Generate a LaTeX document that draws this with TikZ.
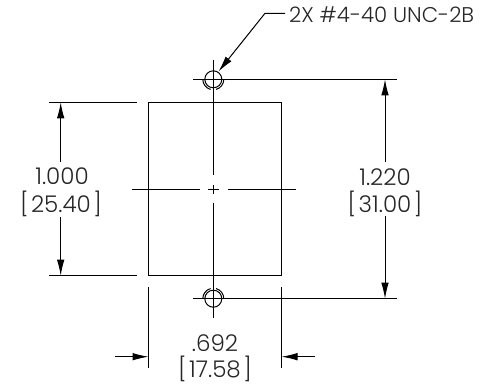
\documentclass[tikz,border=0pt]{standalone}
\usepackage{fontspec}
\setmainfont{Poppins Light}
\usetikzlibrary{arrows.meta,calc}
\tikzset{
  thinline/.style={line width=1pt,black},
  dimline/.style={line width=1pt,black},
  tip/.style={-{Latex[length=16pt,width=7.5pt]}},
  dimtext/.style={font=\fontsize{23}{27}\selectfont,inner sep=0pt,anchor=center,text=black!85},
  hole/.style={circle,draw,line width=1pt,minimum size=17pt,inner sep=0pt}
}
\newcommand{\brk}[1]{[\kern2.5pt#1\kern2.5pt]}
\begin{document}
\begin{tikzpicture}[x=1pt,y=-1pt]
\useasboundingbox[fill=white] (0,0) rectangle (484,386);
% part
\node[draw,line width=1pt,minimum width=133pt,minimum height=173.4pt,inner sep=0pt] (part) at (215,189) {};
% holes
\node[hole] (holeT) at (213.3,79.3) {};
\node[hole] (holeB) at (213.3,298.7) {};
\draw[thinline] ($(holeT)+(105:10.5)$) arc (105:180:10.5);
\draw[thinline] ($(holeT)+(0:10.5)$) arc (0:75:10.5);
\draw[thinline] ($(holeB)+(-180:10.5)$) arc (-180:-105:10.5);
\draw[thinline] ($(holeB)+(-75:10.5)$) arc (-75:0:10.5);
% centre lines
\coordinate (vTop) at (213.3,60);
\coordinate (vA) at (213.3,175);
\coordinate (vB) at (213.3,185);
\coordinate (vC) at (213.3,194);
\coordinate (vD) at (213.3,203);
\coordinate (vBot) at (213.3,318);
\draw[thinline] (vTop) -- (vA);
\draw[thinline] (vB) -- (vC);
\draw[thinline] (vD) -- (vBot);
\coordinate (hL) at (132,189.3);
\coordinate (hA) at (200,189.3);
\coordinate (hB) at (208,189.3);
\coordinate (hC) at (219,189.3);
\coordinate (hD) at (228,189.3);
\coordinate (hR) at (296,189.3);
\draw[thinline] (hL) -- (hA);
\draw[thinline] (hB) -- (hC);
\draw[thinline] (hD) -- (hR);
% right dimension
\coordinate (rTs) at (193,79.3);
\coordinate (rTe) at (397,79.3);
\coordinate (rBs) at (193,298.7);
\coordinate (rBe) at (397,298.7);
\draw[thinline] (rTs) -- (rTe);
\draw[thinline] (rBs) -- (rBe);
\coordinate (rA) at (385,162);
\coordinate (rB) at (385,216);
\coordinate (rT) at (385,79.3);
\coordinate (rE) at (385,298.7);
\draw[dimline,tip] (rA) -- (rT);
\draw[dimline,tip] (rB) -- (rE);
\node[dimtext] (rt1) at (385,177) {1.220};
\node[dimtext] (rt2) at (385,204) {\brk{31.00}};
% left dimension
\coordinate (lTs) at (49,102.3);
\coordinate (lTe) at (137,102.3);
\coordinate (lBs) at (49,275.7);
\coordinate (lBe) at (137,275.7);
\draw[thinline] (lTs) -- (lTe);
\draw[thinline] (lBs) -- (lBe);
\coordinate (lA) at (60.7,162);
\coordinate (lB) at (60.7,217);
\coordinate (lT) at (60.7,102.3);
\coordinate (lE) at (60.7,275.7);
\draw[dimline,tip] (lA) -- (lT);
\draw[dimline,tip] (lB) -- (lE);
\node[dimtext] (lt1) at (62,176) {1.000};
\node[dimtext] (lt2) at (61,204) {\brk{25.40}};
% bottom dimension
\coordinate (bLs) at (148.5,287);
\coordinate (bLe) at (148.5,368);
\coordinate (bRs) at (281.5,287);
\coordinate (bRe) at (281.5,368);
\draw[thinline] (bLs) -- (bLe);
\draw[thinline] (bRs) -- (bRe);
\coordinate (bA) at (115,356.7);
\coordinate (bB) at (148.5,356.7);
\coordinate (bC) at (315,356.7);
\coordinate (bD) at (281.5,356.7);
\draw[dimline,tip] (bA) -- (bB);
\draw[dimline,tip] (bC) -- (bD);
\node[dimtext] (bt1) at (215,343) {.692};
\node[dimtext] (bt2) at (215,369) {\brk{17.58}};
% leader
\node[dimtext,anchor=west,font=\fontsize{21.3}{25}\selectfont] (callout) at (289,15) {2X \#4-40 UNC-2B};
\coordinate (lstart) at (285,13.3);
\coordinate (knee) at (265,13.3);
\coordinate (ltip) at (218.5,71.5);
\draw[thinline,tip] (lstart) -- (knee) -- (ltip);
\end{tikzpicture}
\end{document}
